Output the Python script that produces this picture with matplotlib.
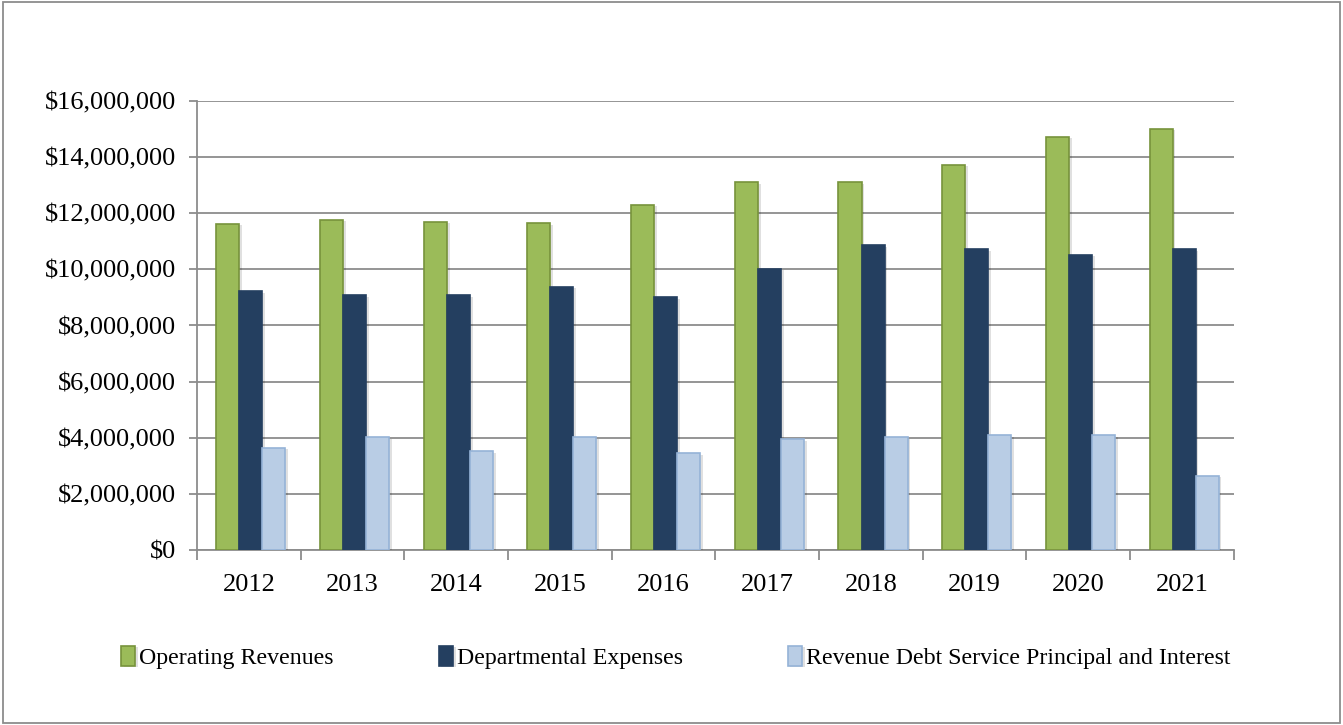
import matplotlib.pyplot as plt
import matplotlib.patheffects as pe
from matplotlib.patches import Rectangle
from matplotlib.ticker import FuncFormatter
import numpy as np

years = ['2012', '2013', '2014', '2015', '2016', '2017', '2018', '2019', '2020', '2021']
operating_revenues = [11630000, 11770000, 11700000, 11640000, 12290000,
                      13100000, 13100000, 13730000, 14730000, 15000000]
departmental_expenses = [9220000, 9080000, 9080000, 9370000, 9010000,
                         10010000, 10860000, 10710000, 10510000, 10710000]
debt_service = [3650000, 4010000, 3510000, 4010000, 3450000,
                3950000, 4010000, 4080000, 4080000, 2650000]

series = [
    ('Operating Revenues', operating_revenues, '#9BBB59', '#77933C'),
    ('Departmental Expenses', departmental_expenses, '#243F60', '#243F60'),
    ('Revenue Debt Service Principal and Interest', debt_service, '#B9CDE5', '#95B3D7'),
]

plt.rcParams['font.family'] = ['Liberation Serif', 'DejaVu Serif']

fig = plt.figure(figsize=(13.43, 7.25), dpi=100)
ax = fig.add_axes([0.1467, 0.2414, 0.772, 0.6193])

# thin grey frame round the whole chart
fig.patches.append(Rectangle((0.002, 0.003), 0.996, 0.994, transform=fig.transFigure,
                             fill=False, edgecolor='#8C8C8C', linewidth=1.3))

x = np.arange(len(years)) + 0.02
width = 0.222
shadow = [pe.SimplePatchShadow(offset=(2, -1), shadow_rgbFace='#000000', alpha=0.12), pe.Normal()]

handles = []
for i, (name, vals, face, edge) in enumerate(series):
    bars = ax.bar(x + (i - 1) * width, vals, width, color=face, edgecolor=edge,
                  linewidth=1.2, label=name, zorder=3)
    for b in bars:
        b.set_path_effects(shadow)
    handles.append(bars)

ax.set_xlim(-0.5, len(years) - 0.5)
ax.set_ylim(0, 16000000)
ax.set_yticks(np.arange(0, 16000001, 2000000))
ax.yaxis.set_major_formatter(FuncFormatter(lambda v, p: f'${v:,.0f}'))
ax.grid(axis='y', color='#8C8C8C', linewidth=1.3, zorder=0)

ax.set_xticks(np.arange(len(years)))
ax.set_xticklabels(years)
ax.set_xticks(np.arange(-0.5, len(years), 1), minor=True)
ax.tick_params(axis='x', which='major', length=0, pad=17, labelsize=19)
ax.tick_params(axis='x', which='minor', length=7, color='#8C8C8C', width=1.3)
ax.tick_params(axis='y', length=6, color='#8C8C8C', width=1.3, pad=9, labelsize=19)

for side in ['top', 'right']:
    ax.spines[side].set_visible(False)
for side in ['left', 'bottom']:
    ax.spines[side].set_color('#8C8C8C')
    ax.spines[side].set_linewidth(1.3)

fig.legend(handles=handles, loc='center', bbox_to_anchor=(0.503, 0.093), ncol=3,
           frameon=False, fontsize=17.2, handlelength=0.6, handleheight=0.9,
           handletextpad=0.15, columnspacing=4.4)

plt.savefig('out.png', dpi=100)
